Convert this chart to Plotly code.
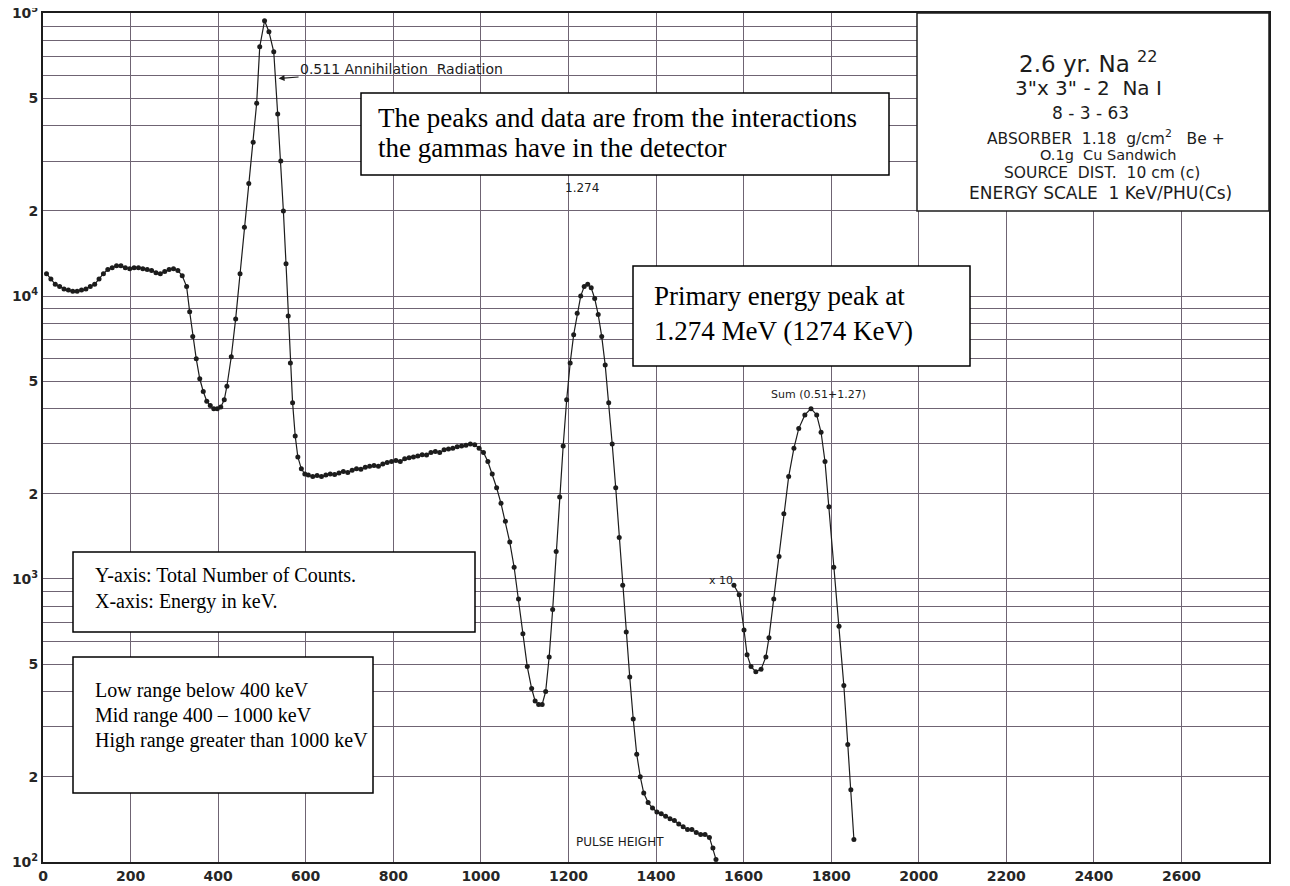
import plotly.graph_objects as go
import math

# ---------------- data (energy in keV, counts) ----------------
energy_main = [8, 18, 28, 38, 48, 58, 68, 78, 88, 98, 108, 118, 128, 138, 148, 158, 168, 178,
               188, 198, 208, 218, 228, 238, 248, 258, 268, 278, 288, 298, 308, 318,
               328, 335, 342, 350, 358, 366, 374, 382, 390, 398, 406, 414, 420, 430, 440,
               450, 460, 470, 480, 488, 495, 506, 516, 527, 536, 543, 549, 555, 560, 565,
               570, 576, 582, 590, 598,
               606, 616, 626, 636, 646, 656, 666, 676, 686, 696, 706, 716, 726, 736, 746,
               756, 766, 776, 786, 796, 806, 816, 826, 836, 846, 856, 866, 876, 886, 896,
               906, 916, 926, 936, 946, 956, 966, 976, 986, 996,
               1006, 1016, 1026, 1036, 1046, 1056, 1066, 1076, 1086, 1096, 1106, 1116,
               1124, 1132, 1140, 1148, 1156, 1164, 1172, 1180, 1188, 1196, 1204, 1212,
               1220, 1228, 1236, 1244, 1252, 1260, 1268, 1276, 1284, 1292, 1300, 1308,
               1316, 1324, 1332, 1340, 1348, 1356, 1364, 1372, 1382, 1392, 1402, 1412,
               1422, 1432, 1442, 1452, 1462, 1472, 1482, 1492, 1502, 1512, 1522, 1530, 1537]
counts_main = [12000, 11500, 11000, 10800, 10600, 10500, 10400, 10400, 10500, 10600, 10800,
               11000, 11500, 12000, 12400, 12600, 12800, 12800, 12600, 12500, 12600, 12600,
               12500, 12400, 12300, 12100, 12000, 12200, 12400, 12500, 12300, 11800,
               10800, 8800, 7200, 6000, 5100, 4600, 4250, 4100, 4000, 4000, 4050, 4300,
               4800, 6100, 8300, 12000, 17500, 25000, 35000, 48000, 76000, 94000, 86000,
               73000, 44000, 30000, 20000, 13000, 8500, 5800, 4200, 3200, 2700, 2450, 2350,
               2330, 2300, 2320, 2300, 2330, 2350, 2340, 2370, 2400, 2380, 2420, 2450, 2440,
               2480, 2500, 2520, 2500, 2550, 2580, 2600, 2620, 2600, 2660, 2680, 2700, 2720,
               2750, 2740, 2800, 2820, 2800, 2860, 2880, 2900, 2930, 2950, 2970, 3000, 2980,
               2900,
               2800, 2600, 2350, 2100, 1850, 1600, 1350, 1100, 850, 640, 490, 410,
               370, 360, 360, 400, 530, 780, 1250, 1950, 2950, 4300, 5800, 7300,
               8700, 10000, 10800, 11000, 10700, 9800, 8600, 7200, 5700, 4200, 3000, 2100,
               1400, 950, 650, 450, 320, 240, 200, 175, 162, 155, 150, 148,
               145, 142, 140, 136, 133, 130, 130, 127, 125, 125, 122, 112, 102]

# x10 scaled sum-peak region
energy_x10 = [1578, 1590, 1601, 1608, 1617, 1628, 1640, 1651, 1658, 1669, 1681, 1692, 1703,
              1715, 1726, 1740, 1754, 1767, 1777, 1786, 1795, 1806, 1818, 1829, 1838, 1845, 1852]
counts_x10 = [950, 880, 660, 540, 490, 470, 480, 530, 620, 850, 1200, 1700, 2300,
              2900, 3400, 3800, 4000, 3800, 3300, 2600, 1800, 1100, 680, 420, 260, 180, 120]

x_tickvals = [0, 200, 400, 600, 800, 1000, 1200, 1400, 1600, 1800, 2000, 2200, 2400, 2600]
x_ticktext = [str(v) for v in x_tickvals]
y_tickvals = [100, 200, 500, 1000, 2000, 5000, 10000, 20000, 50000, 100000]
y_ticktext = ["10<sup>2</sup>", "2", "5", "10<sup>3</sup>", "2", "5",
              "10<sup>4</sup>", "2", "5", "10<sup>5</sup>"]

info_lines = ["2.6 yr. Na <sup>22</sup>", "3\"x 3\" - 2  Na I", "8 - 3 - 63",
              "ABSORBER  1.18  g/cm<sup>2</sup>   Be +", "O.1g  Cu Sandwich",
              "SOURCE  DIST.  10 cm (c)", "ENERGY SCALE  1 KeV/PHU(Cs)"]

box_lines = [
    ["The peaks and data are from the interactions", "the gammas have in the detector"],
    ["Primary energy peak at", "1.274 MeV (1274 KeV)"],
    ["Y-axis: Total Number of Counts.", "X-axis: Energy in keV."],
    ["Low range below 400 keV", "Mid range 400 \u2013 1000 keV", "High range greater than 1000 keV"],
]

# ---------------- geometry (page has an 8px body margin) ----------------
OFF = 8
W, H = 1290 - OFF, 886 - OFF
PX0, PX1, PY0, PY1 = 43, 1269, 13, 862        # plot area in page pixels
L, T = PX0 - OFF, PY0 - OFF
R, B = W + OFF - PX1, H + OFF - PY1
PW, PH = PX1 - PX0, PY1 - PY0


def px(xp):
    return (xp - PX0) / PW


def py(yp):
    return (PY1 - yp) / PH


grid_col = "#6f6473"
ink = "#1c1c1c"

fig = go.Figure()
fig.add_trace(go.Scatter(x=energy_main, y=counts_main, mode="lines+markers",
                         line=dict(color=ink, width=1.2),
                         marker=dict(color=ink, size=5), showlegend=False))
fig.add_trace(go.Scatter(x=energy_x10, y=counts_x10, mode="lines+markers",
                         line=dict(color=ink, width=1.2),
                         marker=dict(color=ink, size=5), showlegend=False))

shapes = []
shapes.append(dict(type="rect", xref="paper", yref="paper", x0=px(917), x1=px(1269),
                   y0=py(211), y1=py(13), fillcolor="white",
                   line=dict(color=ink, width=1.5), layer="above"))
boxes = [(361, 93, 889, 175), (633, 266, 970, 366), (73, 552, 475, 632), (73, 657, 373, 793)]
for (x0, y0, x1, y1) in boxes:
    shapes.append(dict(type="rect", xref="paper", yref="paper", x0=px(x0), x1=px(x1),
                       y0=py(y1), y1=py(y0), fillcolor="white",
                       line=dict(color="black", width=1.5), layer="above"))

annotations = []
serif = "Liberation Serif, Times New Roman, serif"
box_text_layout = [(376, [118, 148], 27), (652, [296, 331], 27),
                   (93, [575, 601], 20), (93, [690, 715, 740], 20)]
for lines, (xp_, ys, fs) in zip(box_lines, box_text_layout):
    for t, yy in zip(lines, ys):
        annotations.append(dict(text=t, xref="paper", yref="paper", x=px(xp_), y=py(yy),
                                xanchor="left", yanchor="middle", align="left",
                                showarrow=False, font=dict(family=serif, size=fs, color="black")))

info_y = [62, 88, 113, 137, 155, 173, 193]
info_x = [1088, 1088, 1090, 1106, 1108, 1102, 1100]
info_sz = [23, 20, 17, 15.5, 14.5, 15.5, 17]
for t, xx, yy, s in zip(info_lines, info_x, info_y, info_sz):
    annotations.append(dict(text=t, xref="paper", yref="paper", x=px(xx), y=py(yy),
                            xanchor="center", yanchor="middle", showarrow=False,
                            font=dict(family="DejaVu Sans, sans-serif", size=s, color=ink)))

lab = dict(family="DejaVu Sans, sans-serif", size=14, color=ink)
annotations.append(dict(text="0.511 Annihilation  Radiation", x=538, y=4.769,
                        xref="x", yref="y", showarrow=True, ax=123, ay=-9,
                        axref="pixel", ayref="pixel",
                        arrowhead=2, arrowsize=1, arrowwidth=1.2, arrowcolor=ink,
                        font=lab, standoff=0))
annotations.append(dict(text="1.274", x=1232, y=math.log10(24000), xref="x", yref="y",
                        showarrow=False, font=dict(family="DejaVu Sans, sans-serif", size=12, color=ink)))
annotations.append(dict(text="Sum (0.51+1.27)", x=1772, y=math.log10(4500), xref="x", yref="y",
                        showarrow=False, font=dict(family="DejaVu Sans, sans-serif", size=11, color=ink)))
annotations.append(dict(text="x 10", x=1548, y=math.log10(990), xref="x", yref="y",
                        showarrow=False, font=dict(family="DejaVu Sans, sans-serif", size=11, color=ink)))
annotations.append(dict(text="PULSE HEIGHT", x=1318, y=math.log10(118), xref="x", yref="y",
                        showarrow=False, font=dict(family="DejaVu Sans, sans-serif", size=12, color=ink)))

tickfont = dict(family="DejaVu Sans, sans-serif", size=14, color="#262626", weight="bold")
fig.update_layout(
    width=W, height=H, margin=dict(l=L, r=R, t=T, b=B, autoexpand=False),
    paper_bgcolor="white", plot_bgcolor="white",
    shapes=shapes, annotations=annotations, showlegend=False,
    xaxis=dict(range=[0, 2800], tickmode="array", tickvals=x_tickvals, ticktext=x_ticktext,
               showgrid=True, gridcolor=grid_col, gridwidth=1, zeroline=False,
               showline=True, mirror=True, linecolor=ink, linewidth=2, ticks="",
               automargin=False, tickfont=tickfont, ticklabeloverflow="allow"),
    yaxis=dict(type="log", range=[1.9995, 5.0005], tickmode="array", tickvals=y_tickvals,
               ticktext=y_ticktext, showgrid=True, gridcolor=grid_col, gridwidth=1,
               minor=dict(dtick="D1", showgrid=True, gridcolor=grid_col, gridwidth=1),
               zeroline=False, showline=True, mirror=True, linecolor=ink, linewidth=2,
               ticks="", automargin=False, tickfont=tickfont, ticklabeloverflow="allow"),
)

fig.write_html("out.html")
